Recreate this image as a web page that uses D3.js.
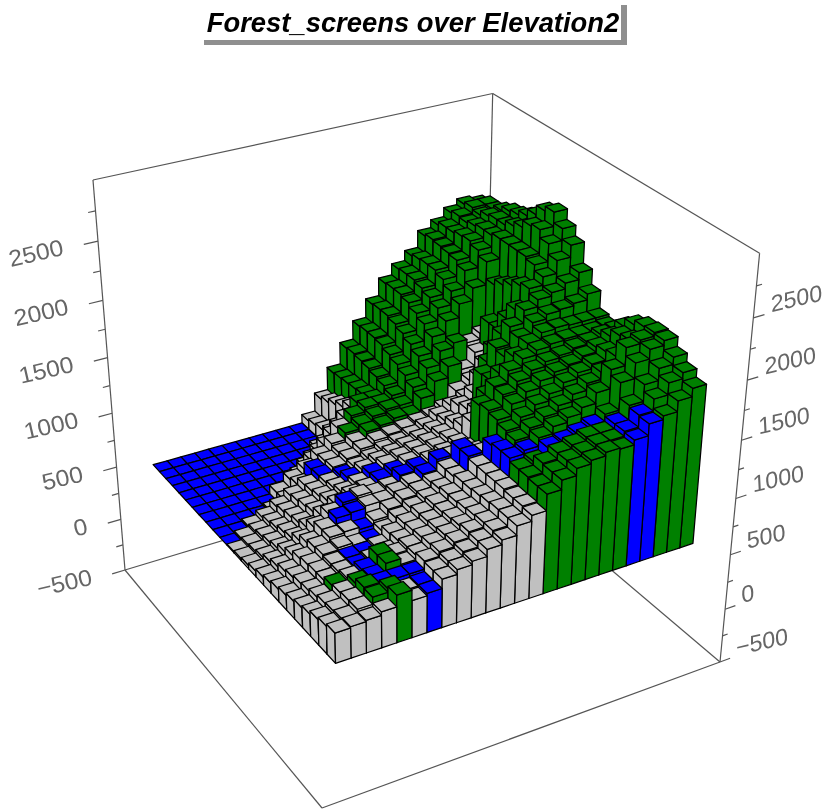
<!DOCTYPE html>
<html><head><meta charset="utf-8">
<script src="https://cdn.jsdelivr.net/npm/d3@7/dist/d3.min.js"></script>
<style>html,body{margin:0;background:#fff}svg{display:block;filter:blur(0.45px)}</style></head>
<body><svg id="c" width="826" height="812"></svg>
<script>
const titleText="Forest_screens over Elevation2";
const zTicks=[-500,0,500,1000,1500,2000,2500];
const zMinor=[-250,250,750,1250,1750,2250,2750];
// Heights above the base plane (tens of metres), rows from back (j=24) to front (j=0), columns i=0..24
const heights=[
[0,0,0,0,0,0,0,0,0,0,0,8,25,46,66,83,100,116,126,135,150,157,165,170,168],
[0,0,0,0,0,0,0,0,0,0,0,10,28,47,67,84,101,117,127,137,152,160,167,172,172],
[0,0,0,0,0,0,0,0,0,0,0,12,32,48,66,84,101,117,127,138,151,160,166,170,172],
[0,0,0,0,0,0,0,0,0,0,5,16,36,49,65,83,99,115,125,138,150,162,168,174,176],
[0,0,0,0,0,0,0,0,0,5,16,28,42,50,63,80,96,111,122,135,149,163,170,176,180],
[0,0,0,0,0,0,0,0,8,18,30,42,52,52,61,77,92,107,118,130,145,160,170,176,182],
[0,0,0,0,0,0,0,10,20,30,42,50,54,54,58,73,87,101,112,124,135,155,172,180,186],
[0,0,0,0,0,8,16,22,30,38,44,48,52,55,55,68,82,94,98,95,100,140,172,184,192],
[0,0,0,0,2,8,18,28,32,36,42,48,50,53,52,64,76,86,80,92,115,145,172,190,200],
[0,0,2,6,12,18,24,29,33,37,42,46,48,50,52,54,58,70,76,88,115,150,172,192,204],
[0,2,4,8,14,20,25,29,32,36,40,44,47,50,54,60,66,70,85,107,130,155,170,185,195],
[1,3,6,10,16,22,27,31,36,40,44,47,50,53,57,62,72,80,104,125,143,158,165,176,186],
[2,4,8,13,18,24,30,34,38,43,47,50,53,56,60,66,75,102,122,137,148,154,157,162,168],
[3,6,10,15,21,28,34,38,40,44,48,52,55,58,62,70,80,103,120,133,143,147,148,150,155],
[5,9,14,20,28,36,42,44,42,44,51,54,57,60,64,80,100,115,126,134,140,141,140,140,140],
[7,12,18,25,33,39,40,42,42,46,50,55,64,64,66,100,113,123,130,134,136,137,137,137,138],
[9,15,22,28,33,34,32,36,42,47,50,54,62,76,70,102,112,120,126,130,132,135,137,140,141],
[11,17,24,29,31,29,29,34,41,46,50,55,62,76,76,100,110,117,123,127,130,134,138,144,149],
[13,19,25,28,29,29,31,38,43,48,52,57,64,74,88,97,105,112,118,124,129,133,140,150,156],
[15,20,25,28,29,31,33,39,44,48,52,57,64,74,90,95,102,108,114,120,126,132,142,152,160],
[17,22,28,30,33,42,38,41,45,49,53,58,65,74,90,93,100,106,110,115,124,140,155,158,161],
[19,24,29,33,34,42,37,41,46,50,54,59,66,74,87,90,98,100,103,106,112,135,148,156,160],
[22,25,30,37,36,36,36,43,47,51,56,60,67,73,87,95,100,103,106,106,110,122,136,146,152],
[24,26,30,36,39,33,34,42,46,50,55,60,67,73,86,94,100,103,106,106,110,120,130,140,145],
[26,27,28,31,41,32,34,42,46,49,55,59,67,72,86,94,100,103,106,105,109,119,122,131,138]];
// Land cover per cell, same layout: B water, S screens, G forest
const cover=[
"BBBBBBBBBBBSSGGGGGGGGGGGG",
"BBBBBBBBBBBSSGGGGGGGGGGGG",
"BBBBBBBBBBBSSGGGGGGGGGGGG",
"BBBBBBBBBBSSSGGGGGGGGGGGG",
"BBBBBBBBBSSSSGGGGGGGGGGGG",
"BBBBBBBBSSSSGGGGGGGGGGGGG",
"BBBBBBBSSSSGGGGGGGGGGGGGG",
"BBBBBSSSSSGGGGGGGGGSSGGGG",
"BBBBSSSBSSSGGGGGGGSSGGGGG",
"BBSSSSSBSSSSSSSSSSSSGGGGG",
"BSSSSSSSBSSSSSSSSSSGGGGGG",
"SSSSSSSSBSSSSSSSSSGGGGGGG",
"SSSSSSSSSBSSSSSSSGGGGGGGG",
"SSSSSSSSSBBSSSSSSGGGGGGGG",
"SSSSSSBSSSBBSSSSGGGGGGGGG",
"SSSSSBBSSSSBBSSGGGGGGGGGG",
"SSSSSSBSSSSSSBSGGGGGGGGGG",
"SSSSSSBSSSSSSBSGGGGGGGGGG",
"SSSSBBSSSSSSSSBGGGGGGGGGG",
"SSSSBSSSSSSSSSBGGGGGGGGGG",
"SSGSBGSSSSSSSSBBGGGGGGGGG",
"SSSGBGSSSSSSSSGGBBBBGGGGG",
"SSSGBBBSSSSSSSGGGGGGBGGGG",
"SSSGGSBSSSSSSSGGGGGGBBGGG",
"SSSSGSBSSSSSSSGGGGGGBBGGG"];
const coverColor={B:"#0000ff",S:"#c0c0c0",G:"#008000"};

// frame corners on screen
const F=[322,808],R=[720,662],B=[484,462],L=[125,570],TLy=180,V=[402,3944];
const dx1=R[0]-B[0],dx2=L[0]-B[0],sx=F[0]-R[0]+B[0]-L[0];
const dy1=R[1]-B[1],dy2=L[1]-B[1],sy=F[1]-R[1]+B[1]-L[1];
const det=dx1*dy2-dx2*dy1;
const g=(sx*dy2-dx2*sy)/det,h=(dx1*sy-sx*dy1)/det;
const a=R[0]-F[0]+g*R[0],b=L[0]-F[0]+h*L[0],c=F[0];
const d=R[1]-F[1]+g*R[1],e=L[1]-F[1]+h*L[1],f=F[1];
const k=(e+f-TLy*(h+1))/(TLy-V[1]);
const zT=d3.scaleLinear().domain([-500,3000]).range([0,1]);
function P(X,Y,z){const t=zT(z);const w=g*X+h*Y+1+k*t;
 return [(a*X+b*Y+c+k*t*V[0])/w,(d*X+e*Y+f+k*t*V[1])/w];}
function inv(pt,z){const t=zT(z),x=pt[0],y=pt[1];
 const a1=a-x*g,b1=b-x*h,c1=x*(1+k*t)-(c+k*t*V[0]),a2=d-y*g,b2=e-y*h,c2=y*(1+k*t)-(f+k*t*V[1]),dt=a1*b2-a2*b1;
 return [(c1*b2-c2*b1)/dt,(a1*c2-a2*c1)/dt];}
const n=25,z0=500;
// footprint of the grid inside the frame, from where its three visible base corners sit
const cA=inv([335,661],z0),cB=inv([695,545],z0),cC=inv([152,465],z0);
const xS=d3.scaleLinear().domain([0,n]).range([(cA[0]+cC[0])/2,cB[0]]);
const yS=d3.scaleLinear().domain([0,n]).range([(cA[1]+cB[1])/2,cC[1]]);
const svg=d3.select("#c");
const line=(p,q,w)=>svg.append("line").attr("x1",p[0]).attr("y1",p[1]).attr("x2",q[0]).attr("y2",q[1]).attr("stroke","#555").attr("stroke-width",w||1.2);
line(P(0,1,-500),P(1,1,-500));line(P(1,0,-500),P(1,1,-500));line(P(1,1,-500),P(1,1,3000));
line(P(0,1,3000),P(1,1,3000));line(P(1,1,3000),P(1,0,3000));
line(P(0,1,-500),P(0,1,3000));line(P(1,0,-500),P(1,0,3000));
line(P(0,1,-500),P(0,0,-500));line(P(0,0,-500),P(1,0,-500));
zTicks.forEach(z=>{line(P(0,1,z),P(-0.033,1,z));line(P(1,0,z),P(1.028,0,z));});
zMinor.forEach(z=>{line(P(0,1,z),P(-0.017,1,z));line(P(1,0,z),P(1.014,0,z));});
const fmt=z=>(z<0?"\u2212":"")+Math.abs(z);
zTicks.forEach(z=>{const p=P(-0.045,1,z);
 svg.append("text").attr("transform",`translate(${p[0]-14},${p[1]+9}) rotate(-13) scale(1.08,1)`).attr("text-anchor","end")
 .attr("font-family","Liberation Sans").attr("font-size",23).attr("fill","#666").text(fmt(z));
 const q=P(1.04,0,z);
 svg.append("text").attr("transform",`translate(${q[0]+2},${q[1]-1}) rotate(-13) skewX(-10) scale(1.03,1)`).attr("text-anchor","start")
 .attr("font-family","Liberation Sans").attr("font-size",23).attr("fill","#666").text(fmt(z));});
const gb=svg.append("g");
const poly=(pts,col)=>gb.append("polygon").attr("points",pts.map(p=>p.join(",")).join(" ")).attr("fill",col).attr("stroke","#000").attr("stroke-width",1.25).attr("stroke-linejoin","round");
for(let j=n-1;j>=0;j--){for(let i=n-1;i>=0;i--){
 const r=n-1-j,zt=z0+heights[r][i]*10,col=coverColor[cover[r][i]];
 const x0=xS(i),x1=xS(i+1),y0=yS(j),y1=yS(j+1);
 if(heights[r][i]>0){
 poly([P(x0,y0,z0),P(x0,y1,z0),P(x0,y1,zt),P(x0,y0,zt)],col);
 poly([P(x0,y0,z0),P(x1,y0,z0),P(x1,y0,zt),P(x0,y0,zt)],col);}
 poly([P(x0,y0,zt),P(x1,y0,zt),P(x1,y1,zt),P(x0,y1,zt)],col);
}}
svg.append("rect").attr("x",204).attr("y",40).attr("width",423).attr("height",5).attr("fill","#8f8f8f");
svg.append("rect").attr("x",621).attr("y",5).attr("width",6).attr("height",40).attr("fill","#8f8f8f");
svg.append("text").attr("x",413).attr("y",32).attr("text-anchor","middle").attr("font-family","Liberation Sans").attr("font-weight","bold").attr("font-style","italic").attr("font-size",27.4).text(titleText);
</script></body></html>
